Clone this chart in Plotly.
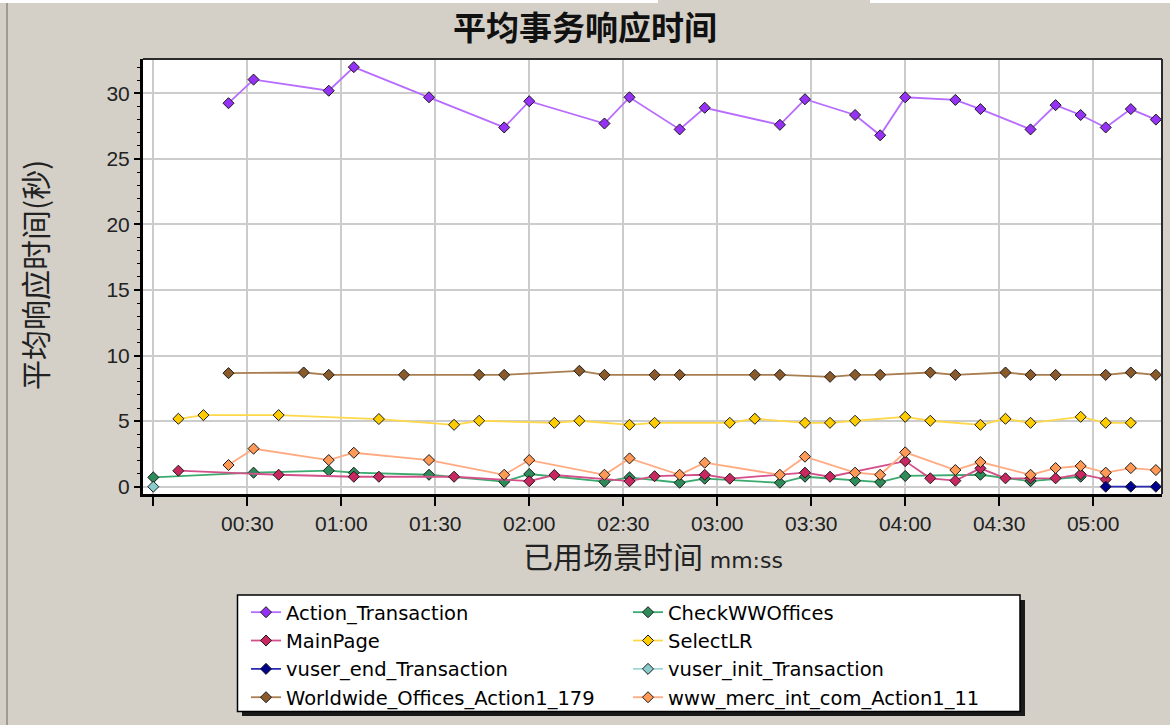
import plotly.graph_objects as go

# ---------------- data ----------------
x_tick_seconds = [0, 30, 60, 90, 120, 150, 180, 210, 240, 270, 300]
x_tick_labels = ["", "00:30", "01:00", "01:30", "02:00", "02:30", "03:00",
                 "03:30", "04:00", "04:30", "05:00"]
y_tick_values = [0, 5, 10, 15, 20, 25, 30]

action_t = [24, 32, 56, 64, 88, 112, 120, 144, 152, 168, 176, 200, 208, 224,
            232, 240, 256, 264, 280, 288, 296, 304, 312, 320]
action_v = [29.25, 31.05, 30.2, 32.0, 29.7, 27.4, 29.4, 27.7, 29.7, 27.25, 28.9,
            27.6, 29.55, 28.35, 26.8, 29.7, 29.5, 28.8, 27.25, 29.1, 28.35, 27.4,
            28.8, 28.0]

check_t = [0, 32, 56, 64, 88, 112, 120, 144, 152, 168, 176, 200, 208, 224, 232,
           240, 264, 280, 296]
check_v = [0.71, 1.07, 1.22, 1.07, 0.91, 0.38, 0.97, 0.38, 0.71, 0.3, 0.61, 0.3,
           0.76, 0.46, 0.35, 0.82, 0.91, 0.42, 0.76]

main_t = [8, 40, 64, 72, 96, 120, 128, 152, 160, 176, 184, 208, 216, 240, 248,
          256, 264, 272, 280, 288, 296, 304]
main_v = [1.22, 0.91, 0.76, 0.76, 0.76, 0.42, 0.89, 0.42, 0.8, 0.91, 0.61, 1.07,
          0.76, 1.95, 0.64, 0.46, 1.4, 0.64, 0.64, 0.64, 0.95, 0.55]

select_t = [8, 16, 40, 72, 96, 104, 128, 136, 152, 160, 184, 192, 208, 216, 224,
            240, 248, 264, 272, 280, 296, 304, 312]
select_v = [5.18, 5.46, 5.46, 5.16, 4.72, 5.03, 4.87, 5.03, 4.72, 4.87, 4.87, 5.18,
            4.87, 4.87, 5.03, 5.33, 5.03, 4.72, 5.18, 4.87, 5.33, 4.87, 4.87]

vend_t = [304, 312, 320]
vend_v = [0.0, 0.0, 0.0]

vinit_t = [0]
vinit_v = [0.0]

world_t = [24, 48, 56, 80, 104, 112, 136, 144, 160, 168, 192, 200, 216, 224, 232,
           248, 256, 272, 280, 288, 304, 312, 320]
world_v = [8.66, 8.71, 8.53, 8.53, 8.53, 8.53, 8.84, 8.53, 8.53, 8.53, 8.53, 8.53,
           8.38, 8.53, 8.53, 8.71, 8.53, 8.71, 8.53, 8.53, 8.53, 8.71, 8.53]

merc_t = [24, 32, 56, 64, 88, 112, 120, 144, 152, 168, 176, 200, 208, 224, 232,
          240, 256, 264, 280, 288, 296, 304, 312, 320]
merc_v = [1.65, 2.9, 2.03, 2.59, 2.03, 0.91, 2.03, 0.91, 2.16, 0.91, 1.83, 0.91,
          2.29, 1.07, 0.91, 2.62, 1.27, 1.88, 0.91, 1.42, 1.58, 1.07, 1.42, 1.27]

series = [
    ("Action_Transaction", action_t, action_v, "#9632f5", "#b86cff"),
    ("CheckWWOffices", check_t, check_v, "#2e8b5a", "#3caa6e"),
    ("MainPage", main_t, main_v, "#c8285f", "#d4508a"),
    ("SelectLR", select_t, select_v, "#ffcc00", "#ffd84a"),
    ("vuser_end_Transaction", vend_t, vend_v, "#00008c", "#2a2ab4"),
    ("vuser_init_Transaction", vinit_t, vinit_v, "#8acccc", "#a0d8d8"),
    ("Worldwide_Offices_Action1_179", world_t, world_v, "#8b5a2b", "#a97d50"),
    ("www_merc_int_com_Action1_11", merc_t, merc_v, "#ff9955", "#ffaa80"),
]

# ---------------- layout geometry ----------------
W, H = 1170, 725
ML, MR, MT, MB = 143, 8, 59, 231
PW, PH = W - ML - MR, H - MT - MB


def px_x(px):
    return (px - ML) / PW


def px_y(py):
    return (H - MB - py) / PH


fig = go.Figure()
for name, t, v, mcol, lcol in series:
    fig.add_trace(go.Scatter(
        x=t, y=v, name=name, mode="lines+markers",
        line=dict(color=lcol, width=1.8),
        marker=dict(symbol="diamond", size=8.5, color=mcol,
                    line=dict(color="#1a1a1a", width=1)),
    ))

tick_font = dict(family="Liberation Sans, Arial, sans-serif", size=21, color="#222222")

fig.update_layout(
    width=W, height=H,
    margin=dict(l=ML, r=MR, t=MT, b=MB, autoexpand=False),
    paper_bgcolor="#d4d0c8",
    plot_bgcolor="#ffffff",
    showlegend=True,
    title=dict(
        text="<b>平均事务响应时间</b>",
        x=0.5, xref="container", xanchor="center",
        y=1 - 28 / H, yref="container", yanchor="middle",
        font=dict(family="Noto Sans CJK SC, sans-serif", size=33, color="#111111"),
    ),
    xaxis=dict(
        range=[-3.29, 321.96],
        tickmode="array", tickvals=x_tick_seconds, ticktext=x_tick_labels,
        ticks="outside", ticklen=9, tickwidth=2, tickcolor="#000000",
        showgrid=True, gridcolor="#cccccc", gridwidth=2,
        showline=True, linecolor="#000000", linewidth=3,
        zeroline=False, tickfont=tick_font,
    ),
    yaxis=dict(
        range=[-0.557, 32.62],
        tickmode="array", tickvals=y_tick_values,
        ticks="outside", ticklen=6, tickwidth=1.5, tickcolor="#000000",
        minor=dict(ticks="outside", ticklen=3, tickwidth=1, dtick=1,
                   tickcolor="#000000", showgrid=False),
        showgrid=True, gridcolor="#cccccc", gridwidth=2,
        showline=True, linecolor="#000000", linewidth=3,
        zeroline=False, tickfont=tick_font,
    ),
    legend=dict(
        orientation="h",
        x=px_x(246), xanchor="left",
        y=px_y(593), yanchor="top",
        bgcolor="rgba(0,0,0,0)", borderwidth=0,
        font=dict(family="DejaVu Sans, Verdana, sans-serif", size=19.5, color="#000000"),
        entrywidth=337, entrywidthmode="pixels",
        traceorder="normal", itemwidth=30,
    ),
)

shapes = [
    # legend drop shadow and box
    dict(type="rect", xref="paper", yref="paper",
         x0=px_x(242), x1=px_x(1025), y0=px_y(716), y1=px_y(600),
         fillcolor="#1a1a1a", line=dict(width=0), layer="below"),
    dict(type="rect", xref="paper", yref="paper",
         x0=px_x(237.5), x1=px_x(1020), y0=px_y(711.5), y1=px_y(595),
         fillcolor="#ffffff", line=dict(color="#000000", width=1.5), layer="below"),
    # thin top and right plot frame
    dict(type="line", xref="paper", yref="paper", x0=0, x1=1, y0=1, y1=1,
         line=dict(color="#2b2b2b", width=2), layer="above"),
    dict(type="line", xref="paper", yref="paper", x0=1, x1=1, y0=0, y1=1,
         line=dict(color="#2b2b2b", width=2), layer="above"),
    # window frame details
    dict(type="rect", xref="paper", yref="paper",
         x0=px_x(0), x1=px_x(658), y0=px_y(3), y1=px_y(0),
         fillcolor="#ffffff", line=dict(width=0), layer="below"),
    dict(type="rect", xref="paper", yref="paper",
         x0=px_x(870), x1=px_x(1170), y0=px_y(3), y1=px_y(0),
         fillcolor="#ffffff", line=dict(width=0), layer="below"),
    dict(type="line", xref="paper", yref="paper",
         x0=px_x(7), x1=px_x(7), y0=px_y(725), y1=px_y(3),
         line=dict(color="#8e8a82", width=1.5), layer="below"),
]
fig.update_layout(shapes=shapes)

fig.add_annotation(
    text="平均响应时间(秒)", textangle=-90,
    xref="paper", yref="paper", x=px_x(34), y=px_y(275),
    xanchor="center", yanchor="middle", showarrow=False,
    font=dict(family="Noto Sans CJK SC, sans-serif", size=30, color="#222222"),
)
fig.add_annotation(
    text="已用场景时间 <span style=\"font-family:'DejaVu Sans', Verdana, sans-serif; font-size:22px\">mm:ss</span>",
    xref="paper", yref="paper", x=px_x(653), y=px_y(555),
    xanchor="center", yanchor="middle", showarrow=False,
    font=dict(family="Noto Sans CJK SC, sans-serif", size=30, color="#222222"),
)

fig.write_html(
    "out.html",
    config={"displayModeBar": False},
    post_script="document.body.style.margin='0';document.body.style.overflow='hidden';",
)
